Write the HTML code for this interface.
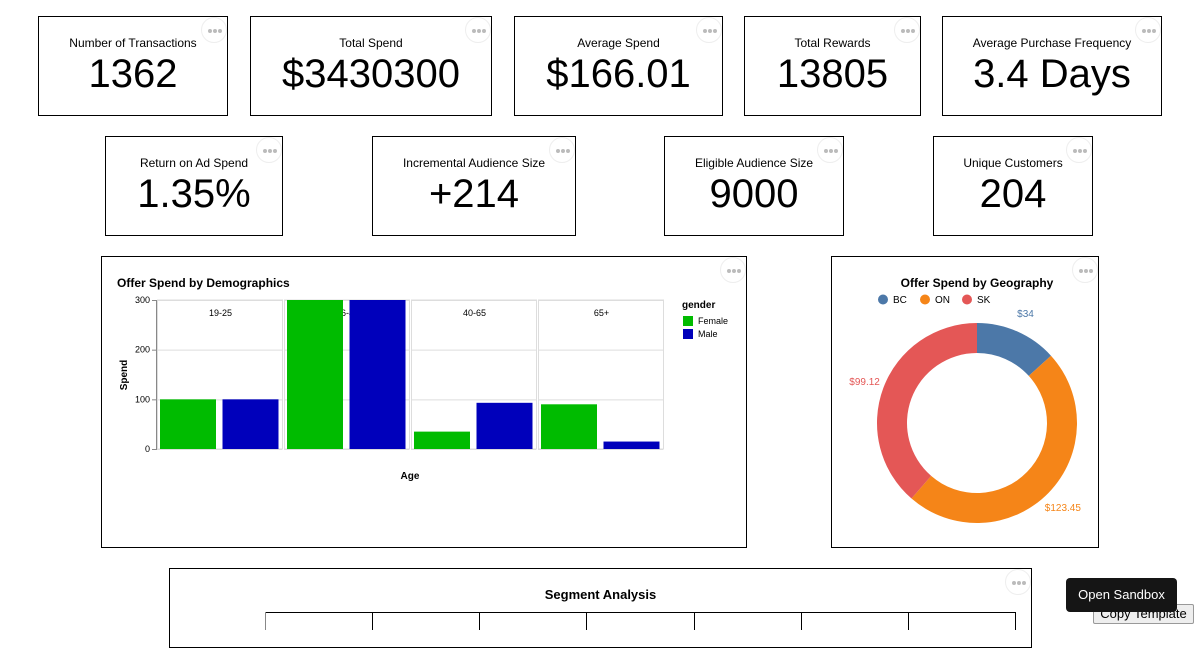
<!DOCTYPE html>
<html><head><meta charset="utf-8"><style>
body{margin:0;width:1200px;height:630px;overflow:hidden;background:#fff;font-family:"Liberation Sans",Arial,sans-serif;position:relative}
.card{position:absolute;border:1px solid #000;box-sizing:border-box;background:#fff}
.kpi .t{position:absolute;top:19px;left:0;right:0;text-align:center;font-size:12px;color:#000}
.kpi .v{position:absolute;top:35px;left:0;right:0;text-align:center;font-size:40px;color:#000}
.dots{position:absolute;top:0;right:0;width:26px;height:26px;border-radius:50%;border:1px solid #eee;box-sizing:border-box;background:#fff}
.dots i{position:absolute;top:11px;width:4px;height:4px;border-radius:50%;background:#bbb}
svg text{font-family:"Liberation Sans",Arial,sans-serif}
</style></head><body>
<div class="card kpi" style="left:38px;top:16px;width:190px;height:100px"><div class="t">Number of Transactions</div><div class="v">1362</div><div class="dots"><i style="left:6px"></i><i style="left:11px"></i><i style="left:16px"></i></div></div>
<div class="card kpi" style="left:250px;top:16px;width:242px;height:100px"><div class="t">Total Spend</div><div class="v">$3430300</div><div class="dots"><i style="left:6px"></i><i style="left:11px"></i><i style="left:16px"></i></div></div>
<div class="card kpi" style="left:514px;top:16px;width:209px;height:100px"><div class="t">Average Spend</div><div class="v">$166.01</div><div class="dots"><i style="left:6px"></i><i style="left:11px"></i><i style="left:16px"></i></div></div>
<div class="card kpi" style="left:744px;top:16px;width:177px;height:100px"><div class="t">Total Rewards</div><div class="v">13805</div><div class="dots"><i style="left:6px"></i><i style="left:11px"></i><i style="left:16px"></i></div></div>
<div class="card kpi" style="left:942px;top:16px;width:220px;height:100px"><div class="t">Average Purchase Frequency</div><div class="v">3.4 Days</div><div class="dots"><i style="left:6px"></i><i style="left:11px"></i><i style="left:16px"></i></div></div>
<div class="card kpi" style="left:105px;top:136px;width:178px;height:100px"><div class="t">Return on Ad Spend</div><div class="v">1.35%</div><div class="dots"><i style="left:6px"></i><i style="left:11px"></i><i style="left:16px"></i></div></div>
<div class="card kpi" style="left:372px;top:136px;width:204px;height:100px"><div class="t">Incremental Audience Size</div><div class="v">+214</div><div class="dots"><i style="left:6px"></i><i style="left:11px"></i><i style="left:16px"></i></div></div>
<div class="card kpi" style="left:664px;top:136px;width:180px;height:100px"><div class="t">Eligible Audience Size</div><div class="v">9000</div><div class="dots"><i style="left:6px"></i><i style="left:11px"></i><i style="left:16px"></i></div></div>
<div class="card kpi" style="left:933px;top:136px;width:160px;height:100px"><div class="t">Unique Customers</div><div class="v">204</div><div class="dots"><i style="left:6px"></i><i style="left:11px"></i><i style="left:16px"></i></div></div>

<div class="card" style="left:101px;top:256px;width:646px;height:292px">
<div class="dots"><i style="left:6px"></i><i style="left:11px"></i><i style="left:16px"></i></div></div>
<svg id="demo" style="position:absolute;left:0;top:0" width="1200" height="630"></svg>

<div class="card" style="left:831px;top:256px;width:268px;height:292px">
<div class="dots"><i style="left:6px"></i><i style="left:11px"></i><i style="left:16px"></i></div></div>
<svg id="geo" style="position:absolute;left:0;top:0" width="1200" height="630"></svg>

<div class="card" style="left:169px;top:568px;width:863px;height:80px">
<div style="position:absolute;top:18px;left:0;right:0;text-align:center;font-weight:bold;font-size:13px">Segment Analysis</div>
<div class="dots"><i style="left:6px"></i><i style="left:11px"></i><i style="left:16px"></i></div></div>
<svg style="position:absolute;left:0;top:0" width="1200" height="630">
<line x1="265" y1="612.5" x2="1016" y2="612.5" stroke="#000"/>
<g stroke="#000"><line x1="265.5" y1="612" x2="265.5" y2="630" stroke="#888"/><line x1="372.5" y1="612" x2="372.5" y2="630"/><line x1="479.5" y1="612" x2="479.5" y2="630"/><line x1="586.5" y1="612" x2="586.5" y2="630"/><line x1="694.5" y1="612" x2="694.5" y2="630"/><line x1="801.5" y1="612" x2="801.5" y2="630"/><line x1="908.5" y1="612" x2="908.5" y2="630"/><line x1="1015.5" y1="612" x2="1015.5" y2="630"/></g>
</svg>

<div style="position:absolute;left:1093px;top:604px;width:101px;height:20px;background:#eee;border:1px solid #999;border-radius:2px;box-sizing:border-box;font-size:13px;text-align:center;line-height:18px">Copy Template</div>
<div style="position:absolute;left:1066px;top:578px;width:111px;height:34px;background:#151515;border-radius:4px;color:#fff;font-size:13px;text-align:center;line-height:34px">Open Sandbox</div>

<script>
const NS='http://www.w3.org/2000/svg';
function mk(p,t,a,txt){const e=document.createElementNS(NS,t);for(const k in a)e.setAttribute(k,a[k]);if(txt!=null)e.textContent=txt;p.appendChild(e);return e;}
// ---- Demographics data ----
const ageGroups=['19-25','26-40','40-65','65+'];
const femaleSpend=[100,350,35,90];
const maleSpend=[100,350,93,15];
const spendTicks=[0,100,200,300];
const genders=['Female','Male'];
const genderColors=['#00bb00','#0000bb'];
(function(){
const s=document.getElementById('demo');
const y0=449,yTop=300,max=300;
const y=v=>y0-(Math.min(v,max)/max)*(y0-yTop);
mk(s,'text',{x:117,y:287,'font-size':12,'font-weight':'bold'},'Offer Spend by Demographics');
const fx0=157,fw=127;
ageGroups.forEach((g,i)=>{
  const x=fx0+i*fw;
  const r=mk(s,'rect',{x:x+0.5,y:yTop,width:fw-2,height:y0-yTop,fill:'none',stroke:'#ddd'});
  
  spendTicks.forEach(t=>mk(s,'line',{x1:x,x2:x+fw-2,y1:y(t)+0.5,y2:y(t)+0.5,stroke:'#ddd'}));
  mk(s,'text',{x:x+fw/2,y:316,'font-size':9,'text-anchor':'middle'},g);
  const vals=[femaleSpend[i],maleSpend[i]];
  vals.forEach((v,j)=>{
    const b=mk(s,'rect',{x:x+3+j*62.5,y:y(v),width:56,height:y0-y(v),fill:genderColors[j]});
    
    
  });
});
mk(s,'line',{x1:156.5,x2:156.5,y1:yTop,y2:y0,stroke:'#888'});
spendTicks.forEach(t=>{mk(s,'line',{x1:152,x2:157,y1:y(t)+0.5,y2:y(t)+0.5,stroke:'#888'});
  mk(s,'text',{x:150,y:y(t)+3,'font-size':9,'text-anchor':'end'},t);});
mk(s,'text',{x:127,y:375,'font-size':10,'font-weight':'bold','text-anchor':'middle',transform:'rotate(-90 127 375)'},'Spend');
mk(s,'text',{x:410,y:479,'font-size':10,'font-weight':'bold','text-anchor':'middle'},'Age');
mk(s,'text',{x:682,y:308,'font-size':10,'font-weight':'bold'},'gender');
genders.forEach((g,j)=>{const l=mk(s,'rect',{x:683,y:316+j*13,width:10,height:10,fill:genderColors[j]});
 
 mk(s,'text',{x:698,y:324+j*13,'font-size':9},g);});
})();
// ---- Geography data ----
const regions=['BC','ON','SK'];
const regionSpend=[34,123.45,99.12];
const regionLabels=['$34','$123.45','$99.12'];
const regionColors=['#4c78a8','#f58518','#e45756'];
(function(){
const s=document.getElementById('geo');
const cx=977,cy=423,R=100,r=70;
mk(s,'text',{x:977,y:287,'font-size':12,'font-weight':'bold','text-anchor':'middle'},'Offer Spend by Geography');
regions.forEach((g,i)=>{mk(s,'circle',{cx:883+i*42,cy:299.5,r:5,fill:regionColors[i]});mk(s,'text',{x:893+i*42,y:303,'font-size':10},g);});
const tot=regionSpend.reduce((a,b)=>a+b,0);let a0=0;
const pt=(a,rad)=>[cx+rad*Math.sin(a),cy-rad*Math.cos(a)];
regionSpend.forEach((v,i)=>{
  const a1=a0+v/tot*2*Math.PI,lg=(a1-a0)>Math.PI?1:0;
  const [x1,y1]=pt(a0,R),[x2,y2]=pt(a1,R),[x3,y3]=pt(a1,r),[x4,y4]=pt(a0,r);
  const p=mk(s,'path',{d:`M${x1},${y1}A${R},${R} 0 ${lg} 1 ${x2},${y2}L${x3},${y3}A${r},${r} 0 ${lg} 0 ${x4},${y4}Z`,fill:regionColors[i]});
  
  
  const am=(a0+a1)/2;const [lx,ly]=pt(am,120);
  mk(s,'text',{x:lx,y:ly+4,'font-size':10,fill:regionColors[i],'text-anchor':'middle'},regionLabels[i]);
  a0=a1;
});
})();
</script>
</body></html>
